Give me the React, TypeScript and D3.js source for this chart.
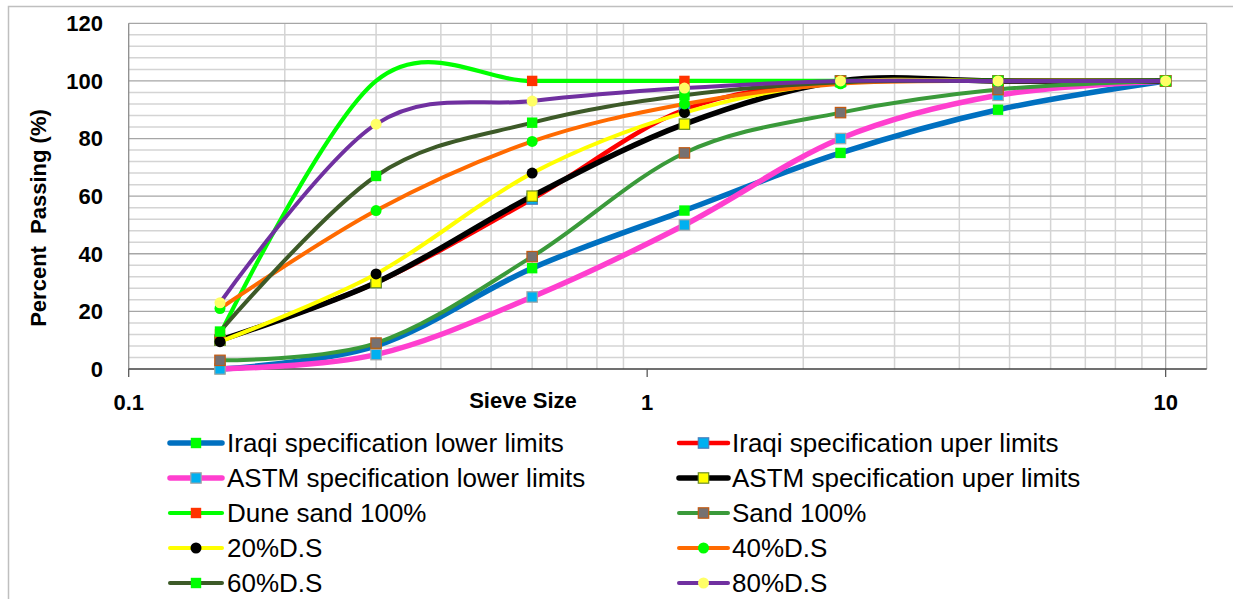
import React from "react";
import * as d3 from "d3";

// Sieve sizes (mm)
const sieves = [0.15, 0.3, 0.6, 1.18, 2.36, 4.75, 10];

// Percent passing for each grading
const iraqiLower = [0, 8, 35, 55, 75, 90, 100];
const iraqiUpper = [10, 30, 59, 90, 100, 100, 100];
const astmLower = [0, 5, 25, 50, 80, 95, 100];
const astmUpper = [10, 30, 60, 85, 100, 100, 100];
const duneSand = [12, 100, 100, 100, 100, 100, 100];
const sand = [3, 9, 39, 75, 89, 97, 100];
const ds20 = [9.5, 33, 68, 89, 99.5, 100, 100];
const ds40 = [21, 55, 79, 92, 99, 100, 100];
const ds60 = [13, 67, 85.5, 95, 99.5, 100, 100];
const ds80 = [23, 85, 93, 97.5, 100, 100, 100];

const seriesNames = [
  "Iraqi specification lower limits",
  "Iraqi specification uper limits",
  "ASTM specification lower limits",
  "ASTM specification uper limits",
  "Dune sand 100%",
  "Sand 100%",
  "20%D.S",
  "40%D.S",
  "60%D.S",
  "80%D.S",
];

const yTicks = [0, 20, 40, 60, 80, 100, 120];
const xTickLabels = [0.1, 1, 10];

type Marker = { shape: "square" | "circle"; fill: string; stroke: string };
type Style = { color: string; width: number; marker: Marker; hidden?: number[] };

const styles: Style[] = [
  { color: "#0070C0", width: 5.5, marker: { shape: "square", fill: "#00FF00", stroke: "none" } },
  { color: "#FF0000", width: 4.5, marker: { shape: "square", fill: "#00B0F0", stroke: "#4A7EBB" } },
  { color: "#FF3FCF", width: 5.5, marker: { shape: "square", fill: "#00B0F0", stroke: "#A5A5A5" } },
  { color: "#000000", width: 5.5, marker: { shape: "square", fill: "#FFFF00", stroke: "#6B8E23" } },
  { color: "#00FF00", width: 4.2, marker: { shape: "square", fill: "#FF3300", stroke: "none" }, hidden: [1] },
  { color: "#3A9A3A", width: 4, marker: { shape: "square", fill: "#767171", stroke: "#C55A11" } },
  { color: "#FFFF00", width: 4, marker: { shape: "circle", fill: "#000000", stroke: "none" } },
  { color: "#FF6A00", width: 4, marker: { shape: "circle", fill: "#00FF00", stroke: "none" } },
  { color: "#3D5A28", width: 4, marker: { shape: "square", fill: "#00FF00", stroke: "none" } },
  { color: "#7030A0", width: 4, marker: { shape: "circle", fill: "#FFFF66", stroke: "none" } },
];

const seriesValues = [iraqiLower, iraqiUpper, astmLower, astmUpper, duneSand, sand, ds20, ds40, ds60, ds80];

const W = 1233;
const H = 599;
const plot = { left: 128.7, right: 1206.7, top: 23.3, bottom: 369 };

const x = d3.scaleLog().domain([0.1, 12]).range([plot.left, plot.right]);
const y = d3.scaleLinear().domain([0, 120]).range([plot.bottom, plot.top]);

const FONT = "'Liberation Sans', Arial, sans-serif";

function MarkerShape({ m, cx, cy }: { m: Marker; cx: number; cy: number }) {
  if (m.shape === "circle") {
    return <circle cx={cx} cy={cy} r={5.5} fill={m.fill} stroke={m.stroke} />;
  }
  return (
    <rect
      x={cx - 5.2}
      y={cy - 5.2}
      width={10.4}
      height={10.4}
      fill={m.fill}
      stroke={m.stroke}
      strokeWidth={m.stroke === "none" ? 0 : 1.2}
    />
  );
}

export default function App() {
  const line = d3
    .line<[number, number]>()
    .x((d) => x(d[0]))
    .y((d) => y(d[1]))
    .curve(d3.curveCatmullRom.alpha(0));

  const minorX: number[] = [];
  for (const dec of [0.1, 1]) for (let k = 2; k <= 9; k++) minorX.push(+(dec * k).toFixed(2));
  const minorY: number[] = [];
  for (let v = 4; v < 120; v += 4) if (v % 20 !== 0) minorY.push(v);

  const legendCols = [
    { lx1: 170, lx2: 222, tx: 227 },
    { lx1: 679, lx2: 728, tx: 732 },
  ];
  const legendRowY = (r: number) => 443 + r * 35;

  return (
    <svg
      width={W}
      height={H}
      style={{ position: "absolute", left: 0, top: 0, background: "#fff" }}
      fontFamily={FONT}
    >
      <rect x={8.5} y={6.5} width={1300} height={700} fill="#fff" stroke="#BFBFBF" strokeWidth={1.5} />

      {/* gridlines */}
      {minorY.map((v) => (
        <line key={"hy" + v} x1={plot.left} x2={plot.right} y1={y(v)} y2={y(v)} stroke="#D4D4D4" strokeWidth={1.5} />
      ))}
      {minorX.map((v) => (
        <line key={"vx" + v} x1={x(v)} x2={x(v)} y1={plot.top} y2={plot.bottom} stroke="#D4D4D4" strokeWidth={1.5} />
      ))}
      {yTicks.slice(1).map((v) => (
        <line key={"my" + v} x1={plot.left} x2={plot.right} y1={y(v)} y2={y(v)} stroke="#A6A6A6" strokeWidth={1.3} />
      ))}
      <line x1={x(10)} x2={x(10)} y1={plot.top} y2={plot.bottom} stroke="#A6A6A6" strokeWidth={1.3} />
      <line x1={plot.right} x2={plot.right} y1={plot.top} y2={plot.bottom} stroke="#BFBFBF" strokeWidth={1.3} />
      <line x1={plot.left} x2={plot.left} y1={plot.top} y2={plot.bottom} stroke="#8C8C8C" strokeWidth={1.3} />
      <line x1={plot.left} x2={plot.right} y1={plot.bottom} y2={plot.bottom} stroke="#404040" strokeWidth={1.5} />
      {xTickLabels.map((v) => (
        <line key={"t" + v} x1={x(v)} x2={x(v)} y1={plot.bottom} y2={plot.bottom + 8} stroke="#595959" strokeWidth={1.3} />
      ))}

      {/* series */}
      {seriesValues.map((vals, i) => {
        const pts = sieves.map((s, j) => [s, vals[j]] as [number, number]);
        const st = styles[i];
        return (
          <g key={"s" + i}>
            <path d={line(pts) || ""} fill="none" stroke={st.color} strokeWidth={st.width} strokeLinejoin="round" strokeLinecap="round" />
            {pts.map((p, j) =>
              st.hidden && st.hidden.includes(j) ? null : (
                <MarkerShape key={j} m={st.marker} cx={x(p[0])} cy={y(p[1])} />
              )
            )}
          </g>
        );
      })}

      {/* axes labels */}
      {yTicks.map((v) => (
        <text key={"yl" + v} x={103} y={y(v)} dy="0.36em" textAnchor="end" fontSize={22} fontWeight="bold" fill="#000">
          {v}
        </text>
      ))}
      {xTickLabels.map((v) => (
        <text key={"xl" + v} x={x(v)} y={410} textAnchor="middle" fontSize={22} fontWeight="bold" fill="#000">
          {v}
        </text>
      ))}
      <text x={523} y={408} textAnchor="middle" fontSize={22} fontWeight="bold" fill="#000">
        Sieve Size
      </text>
      <text
        transform="translate(46,218) rotate(-90)"
        textAnchor="middle"
        fontSize={22}
        fontWeight="bold"
        fill="#000"
        style={{ whiteSpace: "pre" }}
      >
        {"Percent  Passing (%)"}
      </text>

      {/* legend */}
      {seriesNames.map((name, i) => {
        const col = legendCols[i % 2];
        const cy = legendRowY(Math.floor(i / 2));
        const st = styles[i];
        const mx = (col.lx1 + col.lx2) / 2;
        return (
          <g key={"lg" + i}>
            <line x1={col.lx1} x2={col.lx2} y1={cy} y2={cy} stroke={st.color} strokeWidth={st.width} strokeLinecap="round" />
            <MarkerShape m={st.marker} cx={mx} cy={cy} />
            <text x={col.tx} y={cy + 9} fontSize={26} fill="#000">
              {name}
            </text>
          </g>
        );
      })}
    </svg>
  );
}
